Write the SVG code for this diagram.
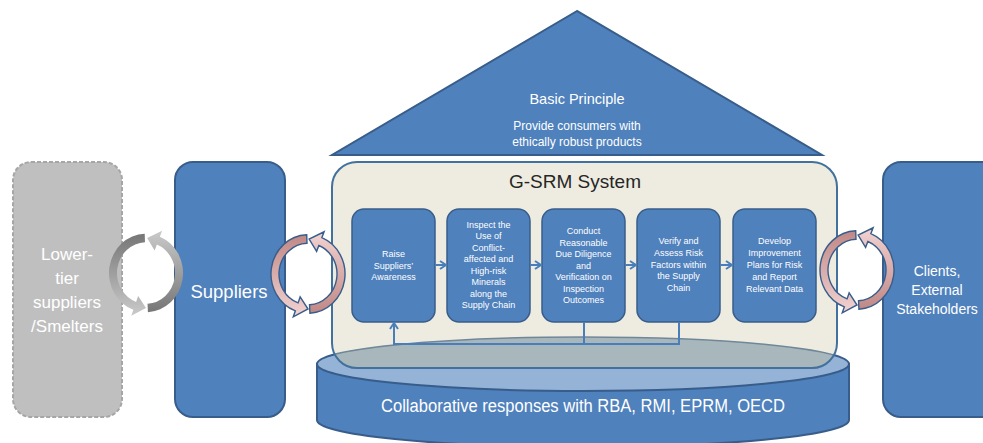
<svg xmlns="http://www.w3.org/2000/svg" xmlns:xlink="http://www.w3.org/1999/xlink" width="983" height="443" viewBox="0 0 983 443">
<style>
.blue{fill:#4F81BD;stroke:#385D8A;stroke-width:2}
.inner{fill:#4F81BD;stroke:#385D8A;stroke-width:1.5}
.wt{fill:#FFFFFF;font-family:"Liberation Sans",Arial,sans-serif;text-anchor:middle}
.sm{font-size:9px}
.conn{fill:none;stroke:#4A7EBB;stroke-width:2}
.pink{stroke:#385D8A;stroke-width:1.4}
</style>
<defs>
<marker id="chev" viewBox="0 0 10 10" refX="8" refY="5" markerWidth="10" markerHeight="10" markerUnits="userSpaceOnUse" orient="auto">
<path d="M2,1 L8,5 L2,9" fill="none" stroke="#4A7EBB" stroke-width="2"/>
</marker>
<linearGradient id="pinkA" x1="0" y1="0" x2="0" y2="1"><stop offset="0" stop-color="#C08886"/><stop offset="1" stop-color="#F2D3D2"/></linearGradient>
<linearGradient id="pinkB" x1="0" y1="1" x2="0" y2="0"><stop offset="0" stop-color="#C08886"/><stop offset="1" stop-color="#F2D3D2"/></linearGradient>
<linearGradient id="grayA" x1="0" y1="0" x2="0" y2="1"><stop offset="0" stop-color="#767676"/><stop offset="1" stop-color="#CACACA"/></linearGradient>
<linearGradient id="grayB" x1="0" y1="1" x2="0" y2="0"><stop offset="0" stop-color="#767676"/><stop offset="1" stop-color="#CACACA"/></linearGradient>
<path id="arcA" d="M -1.29,-36.98 A 37,37 0 0 0 -12.65,34.77 L -14.71,40.41 L 0,33 L -7.87,21.61 L -9.92,27.25 A 29,29 0 0 1 -1.01,-28.98 Z"/>
<path id="arcB" d="M 1.94,36.95 A 37,37 0 0 0 13.86,-34.31 L 16.11,-39.87 L 1.15,-32.98 L 8.62,-21.33 L 10.86,-26.89 A 29,29 0 0 1 1.52,28.96 Z"/>
<clipPath id="gsrmClip"><rect x="332" y="162" width="505" height="206" rx="25"/></clipPath>
</defs>

<g id="principle">
<polygon points="577,11 332,155 822,155" class="blue"/>
<text x="577" y="104" class="wt" style="font-size:14.5px">Basic Principle</text>
<text x="577" y="130" class="wt" style="font-size:12px">Provide consumers with</text>
<text x="577" y="146" class="wt" style="font-size:12px">ethically robust products</text>
</g>

<g id="foundation">
<path d="M 317,364 L 317,420 A 266,27 0 0 0 849,420 L 849,364 Z" class="blue"/>
<ellipse cx="583" cy="364" rx="266" ry="27" fill="#95B3D7" stroke="#385D8A" stroke-width="2"/>
</g>

<g id="gsrm">
<rect x="332" y="162" width="505" height="206" rx="25" fill="#EEECE1"/>
<ellipse cx="583" cy="364" rx="266" ry="27" fill="#A8B7BB" stroke="#70879A" stroke-width="1.5" clip-path="url(#gsrmClip)"/>
<rect x="332" y="162" width="505" height="206" rx="25" fill="none" stroke="#41719C" stroke-width="2"/>
<text x="575" y="188" style="font-family:'Liberation Sans',Arial,sans-serif;font-size:19px;fill:#262626;text-anchor:middle">G-SRM System</text>
</g>

<text x="583" y="412" class="wt" style="font-size:18px" textLength="404" lengthAdjust="spacingAndGlyphs">Collaborative responses with RBA, RMI, EPRM, OECD</text>

<g id="lower-tier">
<rect x="13" y="162" width="109" height="255" rx="18" fill="#BFBFBF" stroke="#A6A6A6" stroke-width="2" stroke-dasharray="4 2"/>
<text class="wt" style="font-size:17px"><tspan x="67" y="260">Lower-</tspan><tspan x="67" y="284">tier</tspan><tspan x="67" y="308">suppliers</tspan><tspan x="67" y="332">/Smelters</tspan></text>
</g>

<g id="suppliers">
<rect x="175" y="162" width="110" height="255" rx="18" class="blue"/>
<text x="229" y="298" class="wt" style="font-size:18.5px">Suppliers</text>
</g>

<g id="clients">
<rect x="883" y="162" width="120" height="255" rx="18" class="blue"/>
<text class="wt" style="font-size:14px"><tspan x="937" y="276">Clients,</tspan><tspan x="937" y="295">External</tspan><tspan x="937" y="314">Stakeholders</tspan></text>
</g>

<g id="step1">
<rect x="352" y="209" width="83" height="113" rx="12" class="inner"/>
<text class="wt sm"><tspan x="393.5" y="257">Raise</tspan><tspan x="393.5" y="268.7">Suppliers’</tspan><tspan x="393.5" y="280.4">Awareness</tspan></text>
</g>
<g id="step2">
<rect x="447" y="209" width="83" height="113" rx="12" class="inner"/>
<text class="wt sm"><tspan x="488.5" y="228">Inspect the</tspan><tspan x="488.5" y="239.4">Use of</tspan><tspan x="488.5" y="250.9">Conflict-</tspan><tspan x="488.5" y="262.3">affected and</tspan><tspan x="488.5" y="273.7">High-risk</tspan><tspan x="488.5" y="285.1">Minerals</tspan><tspan x="488.5" y="296.6">along the</tspan><tspan x="488.5" y="308">Supply Chain</tspan></text>
</g>
<g id="step3">
<rect x="542" y="209" width="83" height="113" rx="12" class="inner"/>
<text class="wt sm"><tspan x="583.5" y="234">Conduct</tspan><tspan x="583.5" y="245.5">Reasonable</tspan><tspan x="583.5" y="257">Due Diligence</tspan><tspan x="583.5" y="268.5">and</tspan><tspan x="583.5" y="280">Verification on</tspan><tspan x="583.5" y="291.5">Inspection</tspan><tspan x="583.5" y="303">Outcomes</tspan></text>
</g>
<g id="step4">
<rect x="637" y="209" width="83" height="113" rx="12" class="inner"/>
<text class="wt sm"><tspan x="678.5" y="244">Verify and</tspan><tspan x="678.5" y="255.8">Assess Risk</tspan><tspan x="678.5" y="267.5">Factors within</tspan><tspan x="678.5" y="279.3">the Supply</tspan><tspan x="678.5" y="291">Chain</tspan></text>
</g>
<g id="step5">
<rect x="733" y="209" width="83" height="113" rx="12" class="inner"/>
<text class="wt sm"><tspan x="774.5" y="244">Develop</tspan><tspan x="774.5" y="256">Improvement</tspan><tspan x="774.5" y="268">Plans for Risk</tspan><tspan x="774.5" y="280">and Report</tspan><tspan x="774.5" y="292">Relevant Data</tspan></text>
</g>

<g id="connectors">
<line x1="435" y1="265" x2="446" y2="265" class="conn" marker-end="url(#chev)"/>
<line x1="530" y1="265" x2="541" y2="265" class="conn" marker-end="url(#chev)"/>
<line x1="625" y1="265" x2="636" y2="265" class="conn" marker-end="url(#chev)"/>
<line x1="720" y1="265" x2="732" y2="265" class="conn" marker-end="url(#chev)"/>
<polyline points="679,322 679,344 394,344 394,323" class="conn" marker-end="url(#chev)"/>
<line x1="584" y1="322" x2="584" y2="344" class="conn"/>
</g>

<g id="cycle-lower" transform="translate(146,273) scale(1,1.06)">
<use xlink:href="#arcA" fill="url(#grayA)"/>
<use xlink:href="#arcB" fill="url(#grayB)"/>
</g>
<g id="cycle-suppliers" transform="translate(308,274) scale(1,1.06)">
<use xlink:href="#arcA" fill="url(#pinkA)" class="pink"/>
<use xlink:href="#arcB" fill="url(#pinkB)" class="pink"/>
</g>
<g id="cycle-clients" transform="translate(857,270) scale(1,1.06)">
<use xlink:href="#arcA" fill="url(#pinkA)" class="pink"/>
<use xlink:href="#arcB" fill="url(#pinkB)" class="pink"/>
</g>
</svg>
